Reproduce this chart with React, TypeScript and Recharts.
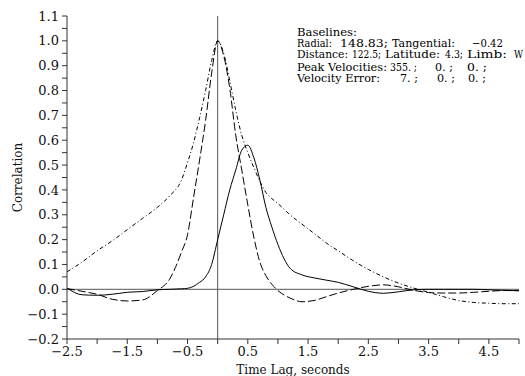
import React from "react";
import {
  LineChart,
  Line,
  XAxis,
  YAxis,
  ReferenceLine,
  Label,
} from "recharts";

// time lag (s)
const lags = [
  -2.5, -2.25, -2.0, -1.75, -1.5, -1.25, -1.0, -0.8, -0.6, -0.5, -0.4, -0.3,
  -0.2, -0.1, 0, 0.1, 0.2, 0.3, 0.4, 0.5, 0.6, 0.7, 0.8, 0.9, 1.0, 1.2, 1.4,
  1.6, 1.8, 2.0, 2.25, 2.5, 2.75, 3.0, 3.25, 3.5, 3.75, 4.0, 4.25, 4.5, 4.75,
  5.0,
];

// dash-dot curve (broad)
const broad = [
  0.07, 0.11, 0.155, 0.195, 0.24, 0.285, 0.33, 0.375, 0.44, 0.51, 0.59, 0.69,
  0.8, 0.92, 1.0, 0.95, 0.84, 0.72, 0.62, 0.55, 0.49, 0.435, 0.39, 0.365, 0.345,
  0.3, 0.262, 0.225, 0.187, 0.155, 0.115, 0.08, 0.05, 0.025, 0.005, -0.012,
  -0.03, -0.045, -0.053, -0.056, -0.058, -0.058,
];

// dashed curve (narrow)
const narrow = [
  0.003, -0.008, -0.02, -0.04, -0.047, -0.043, -0.005, 0.04, 0.15, 0.22, 0.37,
  0.52, 0.68, 0.87, 1.0, 0.94, 0.81, 0.62, 0.48, 0.34, 0.21, 0.11, 0.055, 0.02,
  -0.005, -0.035, -0.05, -0.045, -0.03, -0.015, 0.0, 0.012, 0.018, 0.01,
  -0.004, -0.013, -0.015, -0.015, -0.012, -0.008, -0.005, -0.005,
];

// solid curve (shifted)
const shifted = [
  0.005, -0.022, -0.024, -0.02, -0.012, -0.009, -0.002, 0.0, 0.002, 0.004,
  0.012, 0.028, 0.05, 0.1, 0.2, 0.3, 0.4, 0.48, 0.56, 0.58, 0.53, 0.44, 0.33,
  0.25, 0.18, 0.085, 0.058, 0.046, 0.037, 0.028, 0.01, -0.008, -0.016, -0.01,
  -0.002, 0.0, 0.0, 0.0, 0.0, -0.002, -0.004, -0.006,
];

const xTicks = [
  -2.5, -2.0, -1.5, -1.0, -0.5, 0, 0.5, 1.0, 1.5, 2.0, 2.5, 3.0, 3.5, 4.0,
  4.5, 5.0,
];
const xLabelTicks = [-2.5, -1.5, -0.5, 0.5, 1.5, 2.5, 3.5, 4.5];

const yTicks = [
  -0.2, -0.15, -0.1, -0.05, 0, 0.05, 0.1, 0.15, 0.2, 0.25, 0.3, 0.35, 0.4,
  0.45, 0.5, 0.55, 0.6, 0.65, 0.7, 0.75, 0.8, 0.85, 0.9, 0.95, 1.0, 1.05, 1.1,
];
const yLabelTicks = [
  -0.2, -0.1, 0, 0.1, 0.2, 0.3, 0.4, 0.5, 0.6, 0.7, 0.8, 0.9, 1.0, 1.1,
];

const data = lags.map((t, i) => ({
  t,
  broad: broad[i],
  narrow: narrow[i],
  shifted: shifted[i],
}));

const FONT = "'DejaVu Serif', 'Liberation Serif', serif";

const fmt = (v: number) => v.toFixed(1).replace("-", "\u2212");
const isLabel = (list: number[], v: number) =>
  list.some((l) => Math.abs(l - v) < 1e-6);

// info box text segments: [x, width, text]
const infoLines: [number, number, string][][] = [
  [[297, 60, "Baselines:"]],
  [
    [297, 35, "Radial:"],
    [340, 48, "148.83;"],
    [392, 63, "Tangential:"],
    [472, 31, "\u22120.42"],
  ],
  [
    [297, 51, "Distance:"],
    [352, 29, "122.5;"],
    [385, 55, "Latitude:"],
    [445, 18, "4.3;"],
    [467, 40, "Limb:"],
    [514, 9, "W"],
  ],
  [
    [297, 90, "Peak Velocities:"],
    [390, 27, "355. ;"],
    [435, 18, "0. ;"],
    [467, 20, "0. ;"],
  ],
  [
    [297, 83, "Velocity Error:"],
    [400, 18, "7. ;"],
    [437, 18, "0. ;"],
    [468, 18, "0. ;"],
  ],
];
const infoY = [36, 46.5, 58, 71, 82];

export default function App() {
  const axisStroke = "#333";
  const tickStyle = { fontSize: 13, fill: "#111", fontFamily: FONT };

  return (
    <div
      style={{
        position: "absolute",
        left: 0,
        top: 0,
        width: 525,
        height: 376,
        background: "#fff",
      }}
    >
      <LineChart
        width={525}
        height={376}
        data={data}
        margin={{ top: 16, right: 6, left: 0, bottom: 0 }}
      >
        <XAxis
          xAxisId="b"
          dataKey="t"
          type="number"
          domain={[-2.5, 5]}
          ticks={xTicks}
          interval={0}
          allowDataOverflow
          height={37}
          stroke={axisStroke}
          tickSize={5}
          tickMargin={3}
          tick={tickStyle}
          tickFormatter={(v: number) => (isLabel(xLabelTicks, v) ? fmt(v) : "")}
        >
          <Label
            value="Time Lag, seconds"
            position="insideBottom"
            offset={2}
            style={{ fontSize: 12, fill: "#111", fontFamily: FONT }}
          />
        </XAxis>
        <XAxis
          xAxisId="t"
          orientation="top"
          dataKey="t"
          type="number"
          domain={[-2.5, 5]}
          ticks={xTicks}
          interval={0}
          allowDataOverflow
          height={0}
          stroke={axisStroke}
          tickSize={4}
          tickFormatter={() => ""}
        />
        <YAxis
          yAxisId="l"
          type="number"
          domain={[-0.2, 1.1]}
          ticks={yTicks}
          interval={0}
          allowDataOverflow
          width={67}
          stroke={axisStroke}
          tickSize={5}
          tickMargin={3}
          tick={tickStyle}
          tickFormatter={(v: number) => (isLabel(yLabelTicks, v) ? fmt(v) : "")}
        >
          <Label
            value="Correlation"
            angle={-90}
            position="insideLeft"
            offset={18}
            style={{
              fontSize: 12,
              fill: "#111",
              fontFamily: FONT,
              textAnchor: "middle",
            }}
          />
        </YAxis>
        <YAxis
          yAxisId="r"
          orientation="right"
          type="number"
          domain={[-0.2, 1.1]}
          ticks={yTicks}
          interval={0}
          allowDataOverflow
          width={0}
          stroke={axisStroke}
          tickSize={5}
          tickFormatter={() => ""}
        />

        <ReferenceLine xAxisId="b" yAxisId="l" x={0} stroke="#555" />
        <ReferenceLine xAxisId="b" yAxisId="l" y={0} stroke="#555" />

        <Line
          xAxisId="b"
          yAxisId="l"
          type="monotone"
          dataKey="broad"
          stroke="#000"
          strokeWidth={1}
          strokeDasharray="4 2.5 1 2.5"
          dot={false}
          isAnimationActive={false}
        />
        <Line
          xAxisId="b"
          yAxisId="l"
          type="monotone"
          dataKey="narrow"
          stroke="#000"
          strokeWidth={1}
          strokeDasharray="8 3"
          dot={false}
          isAnimationActive={false}
        />
        <Line
          xAxisId="b"
          yAxisId="l"
          type="monotone"
          dataKey="shifted"
          stroke="#000"
          strokeWidth={1}
          dot={false}
          isAnimationActive={false}
        />
      </LineChart>

      <svg
        width={525}
        height={376}
        style={{ position: "absolute", left: 0, top: 0, pointerEvents: "none" }}
      >
        {infoLines.map((line, i) =>
          line.map(([x, w, s], j) => (
            <text
              key={`${i}-${j}`}
              x={x}
              y={infoY[i]}
              fontSize={10.5}
              fontFamily={FONT}
              textLength={w}
              lengthAdjust="spacingAndGlyphs"
              fill="#000"
            >
              {s}
            </text>
          ))
        )}
      </svg>
    </div>
  );
}
